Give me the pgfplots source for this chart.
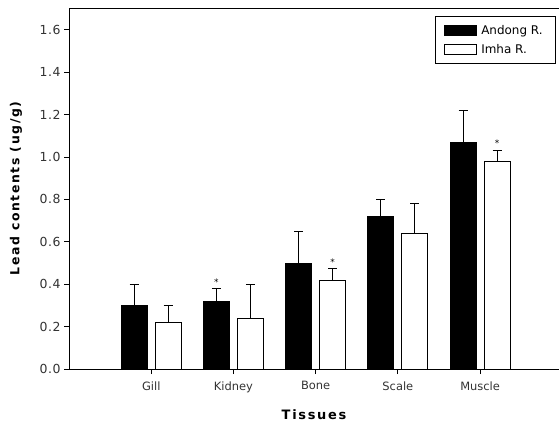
\documentclass[border=0pt]{standalone}
\usepackage{fontspec}
\setmainfont{DejaVu Sans}
\usepackage{pgfplots}
\pgfplotsset{compat=1.18}
\newfontfamily\lblfont[LetterSpace=13]{DejaVu Sans}
\newfontfamily\tckfont[LetterSpace=4]{DejaVu Sans}
\begin{document}
\begin{tikzpicture}
\useasboundingbox (-69bp,-58bp) rectangle (490bp,369bp);
\begin{axis}[
  at={(0,0)}, anchor=south west,
  scale only axis, width=490bp, height=361bp,
  xmin=0, xmax=5.96, ymin=0, ymax=1.703,
  clip=false,
  axis lines*=left,
  axis line style={-, line width=0.8pt, black},
  ytick={0,0.2,0.4,0.6,0.8,1.0,1.2,1.4,1.6},
  /pgf/number format/assume math mode=true,
  yticklabel style={/pgf/number format/fixed, /pgf/number format/fixed zerofill,
    /pgf/number format/precision=1, font=\tckfont\fontsize{12.5}{14}\selectfont, text=black!80},
  xtick={1,2,3,4,5},
  xticklabels={Gill,Kidney,Bone,Scale,Muscle},
  xticklabel style={font=\fontsize{11.5}{13}\selectfont, text=black!80, yshift=-4bp},
  tick align=outside, major tick length=5bp,
  tick style={black, line width=0.8pt},
  ylabel={\lblfont\bfseries Lead contents (ug/g)},
  ylabel style={at={(axis description cs:-0.108,0.5)}, anchor=center, font=\fontsize{12.5}{14}\selectfont},
  xlabel={\lblfont\bfseries Tissues},
  xlabel style={at={(axis description cs:0.5,-0.127)}, anchor=center, font=\fontsize{13}{15}\selectfont},
  ybar, bar width=26bp,
  legend style={at={(0.994,0.978)}, anchor=north east, draw=black, line width=1pt,
    font=\fontsize{12}{14}\selectfont, inner xsep=9bp, inner ysep=7bp, row sep=4bp,
    nodes={inner xsep=4bp}},
  legend cell align=left,
]
\addplot[fill=black, draw=black, line width=0.8pt, bar shift=-17bp,
  legend image code/.code={\draw[fill=black, draw=black, line width=0.8pt] (0bp,-5bp) rectangle (32bp,5bp);},
  error bars/.cd, y dir=plus, y explicit,
  error bar style={line width=0.8pt, black},
  error mark options={rotate=90, mark size=4.5bp, line width=0.8pt, black}]
  coordinates {
    (1,0.30) +- (0,0.10)
    (2,0.32) +- (0,0.06)
    (3,0.50) +- (0,0.15)
    (4,0.72) +- (0,0.08)
    (5,1.07) +- (0,0.15)
  };
\addlegendentry{Andong R.}
\addplot[fill=white, draw=black, line width=0.8pt, bar shift=17bp,
  legend image code/.code={\draw[fill=white, draw=black, line width=0.8pt] (0bp,-5bp) rectangle (32bp,5bp);},
  error bars/.cd, y dir=plus, y explicit,
  error bar style={line width=0.8pt, black},
  error mark options={rotate=90, mark size=4.5bp, line width=0.8pt, black}]
  coordinates {
    (1,0.22) +- (0,0.08)
    (2,0.24) +- (0,0.16)
    (3,0.42) +- (0,0.055)
    (4,0.64) +- (0,0.14)
    (5,0.98) +- (0,0.05)
  };
\addlegendentry{Imha R.}
\draw[line width=0.8pt, black] (rel axis cs:0,1) -- (rel axis cs:1,1);
\node[font=\fontsize{9}{9}\selectfont, xshift=-17bp] at (axis cs:2,0.41) {*};
\node[font=\fontsize{9}{9}\selectfont, xshift=17bp] at (axis cs:3,0.505) {*};
\node[font=\fontsize{9}{9}\selectfont, xshift=17bp] at (axis cs:5,1.065) {*};
\end{axis}
\end{tikzpicture}
\end{document}
